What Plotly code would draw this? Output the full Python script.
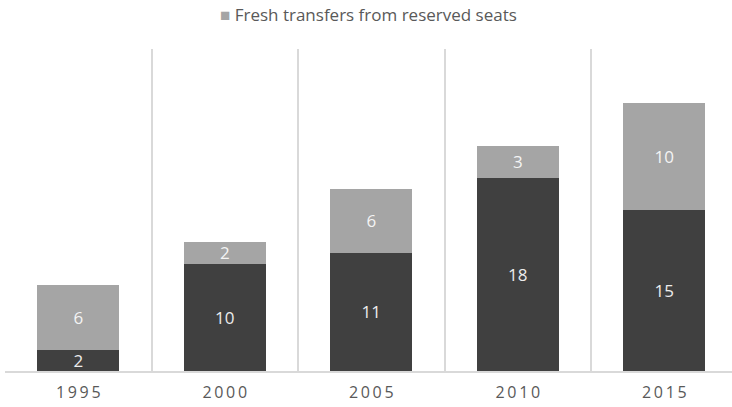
import plotly.graph_objects as go

years = ["1995", "2000", "2005", "2010", "2015"]
base_values = [2, 10, 11, 18, 15]
fresh_values = [6, 2, 6, 3, 10]
fresh_name = "Fresh transfers from reserved seats"

dark = "#404040"
light = "#a5a5a5"
font = "Open Sans, Noto Sans, sans-serif"

fig = go.Figure()
fig.add_trace(go.Bar(
    x=years, y=base_values, name="Existing", showlegend=False,
    marker=dict(color=dark, line=dict(width=0)),
    text=[str(v) for v in base_values], textposition="inside",
    insidetextanchor="middle", textangle=0,
    textfont=dict(color="#ececec", size=17, family=font),
))
fig.add_trace(go.Bar(
    x=years, y=fresh_values, name=fresh_name, showlegend=False,
    marker=dict(color=light, line=dict(width=0)),
    text=[str(v) for v in fresh_values], textposition="inside",
    insidetextanchor="middle", textangle=0,
    textfont=dict(color="#f4f4f4", size=17, family=font),
))

fig.update_layout(
    width=732, height=407,
    barmode="stack", bargap=0.44,
    plot_bgcolor="white", paper_bgcolor="white",
    margin=dict(l=5, r=0, t=49, b=36, autoexpand=False),
    font=dict(family=font, color="#595959", size=15),
    showlegend=False,
    uniformtext=dict(mode="show", minsize=17),
    annotations=[dict(
        text=f"<span style='color:{light}'>■</span> {fresh_name}",
        xref="paper", yref="paper", x=0.5, y=1.106,
        xanchor="center", yanchor="middle", showarrow=False,
        font=dict(size=17, color="#595959", family=font),
    )],
    xaxis=dict(
        type="category", range=[-0.5, 4.462],
        tickmode="array", tickvals=years,
        ticktext=["\u2009".join(y) for y in years],
        tickson="boundaries", showgrid=True, gridcolor="#d9d9d9", gridwidth=1.5,
        ticks="", showline=True, linecolor="#d9d9d9", linewidth=1.5,
        tickfont=dict(size=16, color="#595959"), ticklabelstandoff=6,
    ),
    yaxis=dict(range=[0, 30], visible=False, showgrid=False, zeroline=False),
)

fig.write_html("out.html", config={"displayModeBar": False},
               post_script="document.body.style.margin='0';")
